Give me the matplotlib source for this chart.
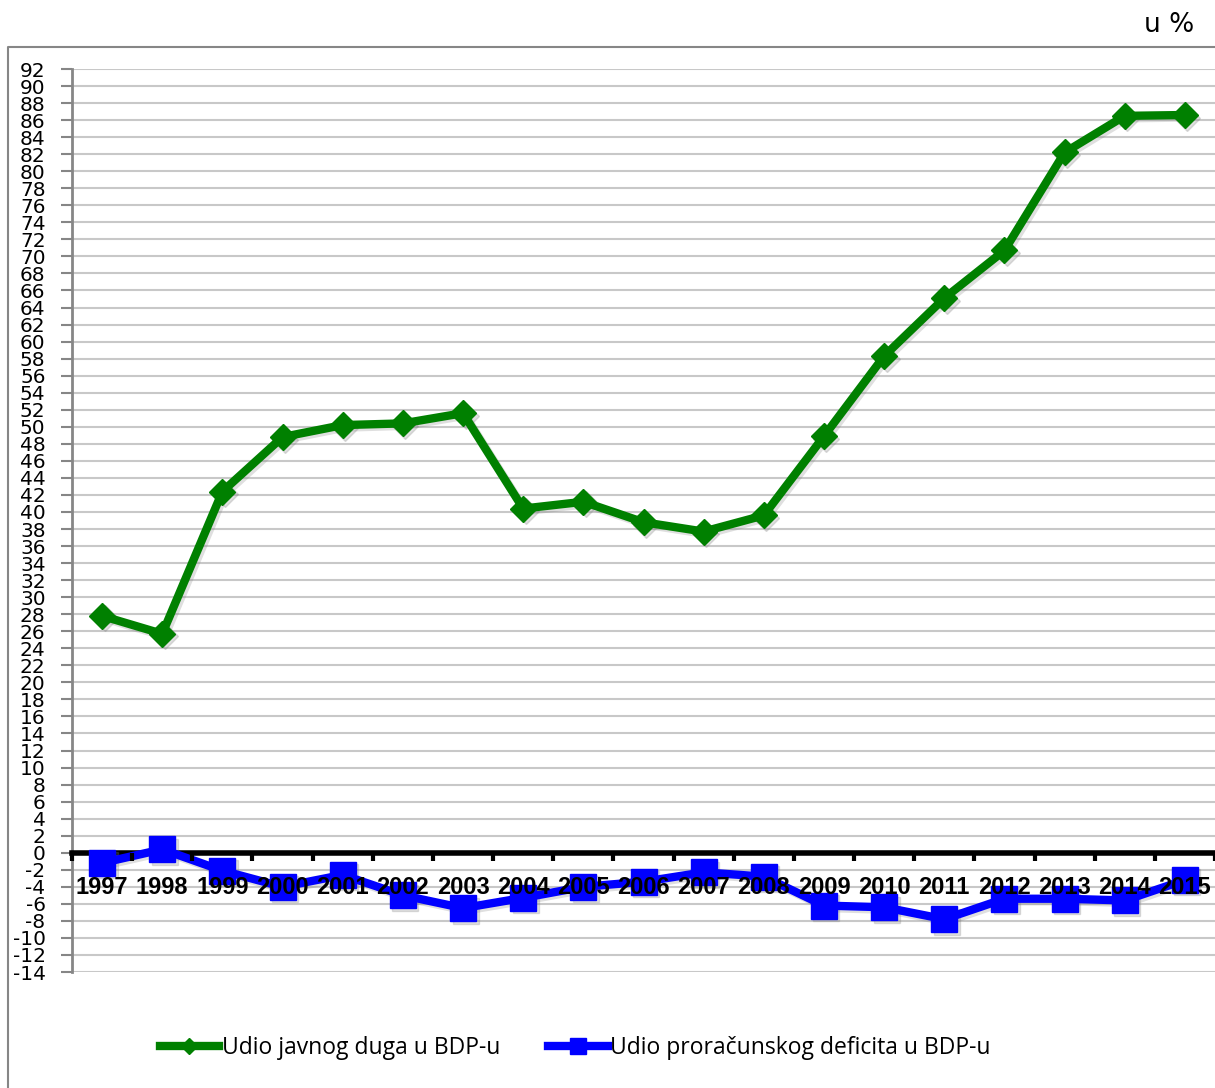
import matplotlib
matplotlib.use("Agg")
import matplotlib.pyplot as plt
import matplotlib.transforms as mtransforms
from matplotlib.lines import Line2D
import numpy as np

years = ["1997", "1998", "1999", "2000", "2001", "2002", "2003", "2004", "2005", "2006",
         "2007", "2008", "2009", "2010", "2011", "2012", "2013", "2014", "2015"]
debt = [27.8, 25.7, 42.4, 48.8, 50.2, 50.4, 51.6, 40.4, 41.2, 38.8,
        37.7, 39.6, 48.9, 58.3, 65.1, 70.7, 82.2, 86.5, 86.6]
deficit = [-1.2, 0.4, -2.1, -4.0, -2.6, -5.0, -6.5, -5.3, -4.0, -3.4,
           -2.3, -2.8, -6.2, -6.4, -7.8, -5.4, -5.4, -5.6, -3.2]
yticks = list(range(-14, 93, 2))
label_debt = "Udio javnog duga u BDP-u"
label_def = "Udio proračunskog deficita u BDP-u"
unit_label = "u %"

W, H = 1215, 1088
fig = plt.figure(figsize=(W / 100, H / 100), dpi=100)
ax = fig.add_axes([72 / W, 1 - 972 / H, (W - 72) / W, (972 - 69) / H])

for s in ["top", "right"]:
    ax.spines[s].set_visible(False)
ax.spines["bottom"].set_position(("data", 0))
ax.spines["bottom"].set_linewidth(4)
ax.spines["bottom"].set_color("black")
ax.spines["bottom"].set_zorder(2.5)
ax.spines["left"].set_color("#868686")
ax.spines["left"].set_linewidth(2)

x = np.arange(len(years))
GREEN = "#008000"
BLUE = "#0000FF"

shadow = mtransforms.offset_copy(ax.transData, fig=fig, x=2.5, y=-2.5, units="dots")
ax.plot(x, debt, color="#808080", alpha=0.25, lw=6, marker="D", ms=13.5,
        transform=shadow, zorder=2.8, solid_joinstyle="round")
ax.plot(x, deficit, color="#808080", alpha=0.25, lw=6, marker="s", ms=19,
        transform=shadow, zorder=2.8, solid_joinstyle="round")
ax.plot(x, debt, color=GREEN, lw=6, marker="D", ms=13.5, mec=GREEN,
        label=label_debt, zorder=3, solid_joinstyle="round")
ax.plot(x, deficit, color=BLUE, lw=6, marker="s", ms=19, mec=BLUE,
        label=label_def, zorder=3, solid_joinstyle="round")

ax.set_xlim(-0.5, len(years) - 0.5)
ax.set_ylim(-14, 92)
ax.yaxis.grid(True, color="#c8c8c8", lw=1.5)
ax.tick_params(axis="y", length=8, width=1.5, color="#868686", pad=11, labelsize=14.5)
ax.set_yticks(yticks, labels=[str(v) for v in yticks], family="DejaVu Sans")

ax.tick_params(axis="x", which="major", length=0, pad=17, labelsize=17)
ax.tick_params(axis="x", which="minor", length=6, width=3, color="black", direction="out")
ax.set_xticks(np.arange(-0.5, len(years), 1.0), minor=True)
ax.set_xticks(x, labels=years, family="Liberation Sans", fontweight="bold", fontsize=17)
ax.xaxis.set_zorder(5)

# outer chart border
fig.add_artist(Line2D([8 / W, 8 / W, 1.0], [0.0, 1 - 47 / H, 1 - 47 / H],
                      transform=fig.transFigure, color="#868686", lw=1.5))

fig.text(1169 / W, 1 - 25 / H, unit_label, fontsize=19, ha="center", va="center",
         family="DejaVu Sans")

leg = fig.legend(loc="center", bbox_to_anchor=(575 / W, 1 - 1048 / H), ncol=2,
                 frameon=False, handlelength=2.6, handletextpad=0.1, columnspacing=2.1,
                 markerscale=0.6, prop={"family": ["Open Sans", "DejaVu Sans"], "size": 16.5})

fig.savefig("out.png", dpi=100)
